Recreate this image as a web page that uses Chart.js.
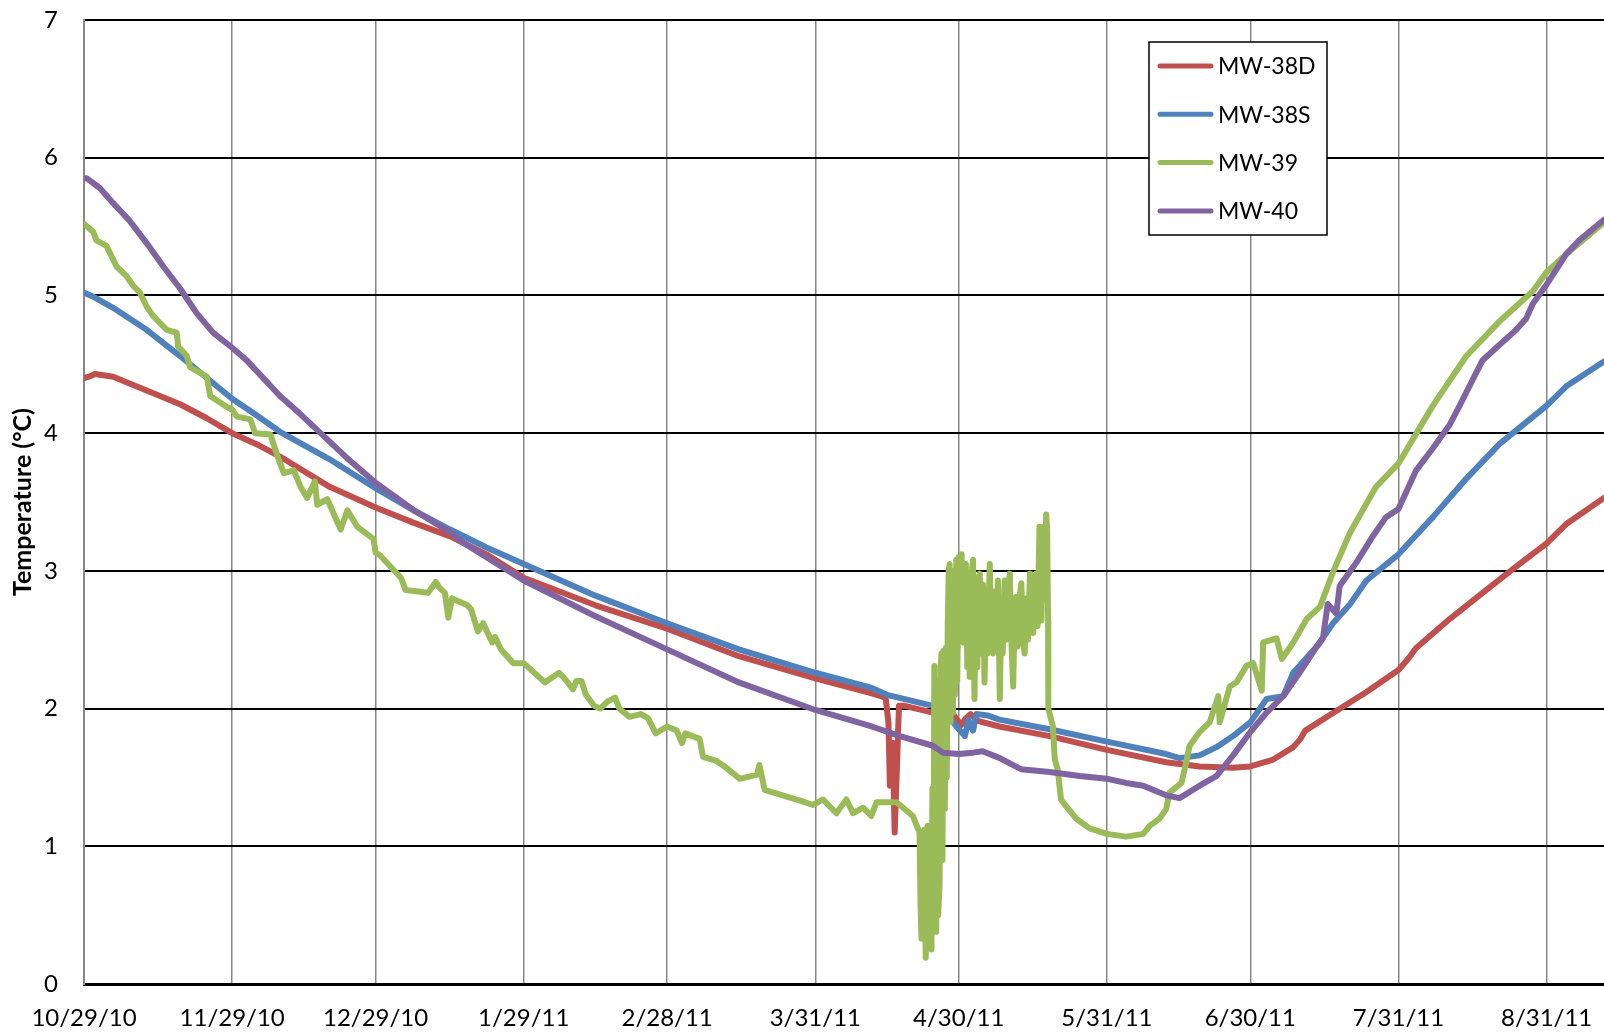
<!DOCTYPE html>
<html>
<head>
<meta charset="utf-8">
<title>Well temperatures</title>
<script src="https://cdn.jsdelivr.net/npm/chart.js@4.4.1/dist/chart.umd.min.js"></script>
<style>
  html, body { margin: 0; padding: 0; background: #fff; }
  #wrap { width: 1604px; height: 1033px; }
</style>
</head>
<body>
<div id="wrap"><canvas id="chart" width="1604" height="1033"></canvas></div>
<script>
// x values are days after 10/29/10
const tickDays = [0, 31, 61, 92, 122, 153, 183, 214, 244, 275, 306];
const tickLabels = ['10/29/10', '11/29/10', '12/29/10', '1/29/11', '2/28/11', '3/31/11',
                    '4/30/11', '5/31/11', '6/30/11', '7/31/11', '8/31/11'];
const seriesNames = ['MW-38D', 'MW-38S', 'MW-39', 'MW-40'];

const mw38d = [
  [0, 4.40], [1, 4.41], [2.3, 4.43], [6.1, 4.41], [13.1, 4.31], [20.1, 4.21], [25.6, 4.11],
  [31, 4.0], [36.1, 3.92], [41, 3.83], [51.4, 3.61], [61, 3.46], [68.9, 3.35], [76.6, 3.25],
  [84.2, 3.12], [92, 2.95], [107, 2.75], [122, 2.58], [137, 2.38], [153, 2.22], [164.8, 2.11],
  [167.7, 2.08], [168.3, 1.9], [168.6, 1.44], [169.2, 1.75], [169.6, 1.10], [170.1, 1.6],
  [170.5, 2.02], [171.7, 2.02], [177.6, 1.97], [182, 1.95], [183.5, 1.88], [184.5, 1.93],
  [185.5, 1.96], [187, 1.91], [191.5, 1.87], [202, 1.80], [214, 1.70], [226.4, 1.61],
  [233.4, 1.58], [240.4, 1.57], [244, 1.58], [248.8, 1.63], [253, 1.72], [254.5, 1.78],
  [255.5, 1.84], [261.4, 1.97], [268.3, 2.12], [275, 2.28], [277, 2.36], [278.7, 2.44],
  [285.7, 2.65], [292.6, 2.84], [299.6, 3.03], [306, 3.20], [310.1, 3.34], [318, 3.53]
];

const mw38s = [
  [0, 5.02], [2, 4.99], [6.1, 4.91], [13.1, 4.75], [20.1, 4.56], [31, 4.25], [36.1, 4.13],
  [41, 4.01], [51.4, 3.81], [61, 3.60], [68.9, 3.44], [76.6, 3.30], [84.2, 3.17], [92, 3.05],
  [107, 2.82], [122, 2.62], [137, 2.43], [153, 2.26], [164.8, 2.15], [168, 2.10], [177.6, 2.02],
  [180, 1.98], [183, 1.85], [184.3, 1.80], [185, 1.92], [186, 1.84], [186.7, 1.96],
  [189, 1.95], [191.5, 1.92], [202, 1.85], [214, 1.76], [226.4, 1.67], [229.2, 1.64],
  [233.4, 1.66], [236.9, 1.72], [240.4, 1.80], [244, 1.90], [247.4, 2.07], [250.9, 2.09],
  [253, 2.26], [257.9, 2.45], [261.3, 2.62], [264.9, 2.76], [268.3, 2.93], [275, 3.12],
  [282.2, 3.39], [289.2, 3.67], [296.1, 3.92], [306, 4.20], [310.1, 4.34], [318, 4.52]
];

const mw39 = [
  [0, 5.52], [1.95, 5.46], [2.6, 5.40], [4.7, 5.36], [6.1, 5.26], [6.8, 5.21], [8.9, 5.14],
  [10.3, 5.07], [11.7, 5.02], [13.1, 4.92], [14.5, 4.85], [15.9, 4.80], [17.3, 4.75],
  [19.4, 4.73], [19.7, 4.63], [21.5, 4.56], [22.2, 4.48], [25.7, 4.41],
  [26.4, 4.27], [29.9, 4.19], [31, 4.17], [32, 4.12], [34.8, 4.10], [35.8, 4.0], [39, 3.99],
  [40.4, 3.84], [41.8, 3.71], [43.9, 3.73], [45.3, 3.61], [46.7, 3.53], [48.3, 3.65],
  [48.8, 3.48], [50.9, 3.52], [53.7, 3.30], [55.1, 3.44], [57.2, 3.32], [60.6, 3.23],
  [61, 3.13], [62, 3.11], [66.3, 2.95], [67.3, 2.86], [70, 2.85], [72, 2.84], [73.6, 2.92],
  [74.3, 2.88], [75.5, 2.84], [76.2, 2.66], [77, 2.8], [80.2, 2.75], [81, 2.72], [82.4, 2.56],
  [83.5, 2.62], [85.4, 2.48], [86, 2.52], [87.2, 2.43], [89.8, 2.33], [92, 2.33], [96.4, 2.19],
  [99.4, 2.26], [100.5, 2.22], [102.3, 2.14], [103, 2.2], [104.1, 2.2], [105, 2.1],
  [106.7, 2.02], [108, 2.0], [109.5, 2.05], [111.1, 2.08], [112, 2.0], [114.1, 1.94],
  [116.5, 1.96], [118, 1.93], [119.6, 1.82], [122, 1.87], [124, 1.84], [125.1, 1.75],
  [125.8, 1.82], [128.8, 1.78], [129.5, 1.65], [132.3, 1.62], [134, 1.58], [137.2, 1.49],
  [140.8, 1.52], [141.3, 1.59], [142.4, 1.41], [147, 1.36], [150, 1.33], [152.5, 1.30],
  [154.6, 1.34], [157.4, 1.24], [159.5, 1.34], [160.9, 1.24], [163, 1.28], [164.7, 1.22],
  [165.8, 1.32], [170, 1.32], [173.4, 1.22],
  [174.8, 1.10], [175.0, 0.6], [175.2, 0.33], [175.4, 1.05], [175.6, 0.5], [175.8, 1.12],
  [176.1, 0.19], [176.3, 0.9], [176.5, 1.15], [176.8, 0.3], [177.0, 1.0], [177.3, 0.25],
  [177.5, 1.42], [177.7, 0.5], [177.9, 2.31], [178.1, 0.6], [178.3, 0.38], [178.5, 2.2],
  [178.7, 0.5], [179, 0.72], [179.2, 2.3], [179.4, 2.40], [179.6, 0.9], [179.8, 2.42],
  [180.1, 1.27], [180.3, 2.44], [180.5, 1.5], [180.7, 2.6], [180.9, 3.0], [181.1, 3.05],
  [181.3, 1.9], [181.5, 3.0], [181.8, 1.97], [182.0, 3.0], [182.2, 2.1], [182.5, 3.08],
  [182.7, 2.2], [183.0, 3.1], [183.3, 2.5], [183.6, 3.12], [183.9, 2.48], [184.2, 3.0],
  [184.5, 3.05], [184.8, 2.3], [185.0, 2.9], [185.3, 2.23], [185.6, 2.95], [186, 3.08],
  [186.3, 2.07], [186.6, 2.8], [186.9, 2.3], [187.2, 2.95], [187.4, 2.98], [187.8, 2.4],
  [188.1, 2.9], [188.4, 2.19], [188.7, 2.7], [189.0, 2.4], [189.5, 3.05], [189.8, 2.5],
  [190.2, 2.40], [190.5, 2.85], [190.8, 2.5], [191.2, 2.93], [191.6, 2.07], [191.9, 2.7],
  [192.2, 2.4], [192.6, 2.93], [192.9, 2.5], [193.3, 2.85], [193.7, 2.98], [194.0, 2.5],
  [194.4, 2.16], [194.7, 2.7], [195, 2.81], [195.3, 2.45], [195.7, 2.8], [196.1, 2.91],
  [196.4, 2.5], [196.8, 2.40], [197.1, 2.8], [197.5, 2.5], [197.9, 2.98], [198.2, 2.6],
  [198.6, 2.55], [198.9, 2.95], [199.2, 2.98], [199.5, 2.6], [199.9, 3.32], [200.1, 2.7],
  [200.3, 2.64], [200.6, 3.2], [200.8, 3.32], [201.0, 2.8], [201.3, 3.41], [201.5, 3.3],
  [201.7, 2.64], [201.75, 2.0], [202.7, 1.87], [203.1, 1.63],
  [203.7, 1.56], [204.4, 1.34], [205.5, 1.29], [207.6, 1.20], [210.4, 1.13], [214, 1.09],
  [218, 1.07], [221.6, 1.09], [223, 1.15], [225, 1.20], [226.4, 1.27], [227.1, 1.39],
  [229.6, 1.46], [230.6, 1.61], [231.3, 1.73], [233.4, 1.83], [235.5, 1.90], [237.3, 2.09],
  [237.6, 1.90], [239.7, 2.16], [241.1, 2.19], [243.2, 2.31], [244.6, 2.33], [246.4, 2.13],
  [246.7, 2.48], [249.5, 2.51], [250.6, 2.36], [253, 2.48], [255.8, 2.65], [258.6, 2.74],
  [261.4, 3.0], [264.9, 3.28], [270.3, 3.61], [275, 3.78], [282.2, 4.20], [289.2, 4.56],
  [296.1, 4.81], [303.1, 5.03], [306, 5.17], [310.1, 5.30], [318, 5.53]
];

const mw40 = [
  [0, 5.85], [0.6, 5.85], [3.3, 5.78], [6.1, 5.67], [9.6, 5.54], [13.1, 5.38], [16.6, 5.21],
  [20.1, 5.05], [23.6, 4.87], [27, 4.73], [31, 4.62], [34, 4.53], [41, 4.27], [45.2, 4.14],
  [49.5, 4.0], [55, 3.82], [61, 3.64], [69, 3.44], [76.6, 3.28], [79.5, 3.20], [92, 2.93],
  [107, 2.67], [122, 2.43], [137, 2.19], [153, 1.99], [164.8, 1.87], [170.7, 1.80], [177.6, 1.73],
  [179.7, 1.68], [183, 1.67], [186, 1.68], [188, 1.69], [191.6, 1.64], [196, 1.56], [202, 1.54],
  [208.3, 1.51], [214, 1.49], [218, 1.46], [221.6, 1.44], [226.4, 1.37], [229.2, 1.35],
  [233.4, 1.44], [236.9, 1.51], [240.4, 1.66], [244, 1.83], [247.4, 1.97], [250.9, 2.09],
  [254.3, 2.26], [257.9, 2.45], [259.2, 2.51], [260.2, 2.76], [262, 2.69], [262.7, 2.89],
  [266.2, 3.06], [269.6, 3.25], [272.4, 3.39], [275, 3.45], [278.7, 3.73], [282.2, 3.89],
  [285.7, 4.06], [287.8, 4.20], [292.6, 4.53], [296.1, 4.64], [299.6, 4.75], [301.7, 4.83],
  [303.1, 4.94], [306, 5.08], [310.1, 5.30], [312.8, 5.40], [318, 5.55]
];

const colors = ['#C0504D', '#4F81BD', '#9BBB59', '#8064A2'];

//turn [day, temp] pairs into points for chart.js
function toPoints(arr) {
    return arr.map(p => ({x: p[0], y: p[1]}));
}

const allSeries = [mw38d, mw38s, mw39, mw40];
const datasets = allSeries.map((s, i) => ({
    label: seriesNames[i],
    data: toPoints(s),
    borderColor: colors[i],
    backgroundColor: colors[i],
    borderWidth: 6,
    pointRadius: 0,
    tension: 0,
    borderJoinStyle: 'round',
    borderCapStyle: 'round',
    order: 3 - i   // later series on top, like the spreadsheet
}));

//legend box inside the plot
const boxLegend = {
    id: 'boxLegend',
    afterDraw(chart) {
        const ctx = chart.ctx;
        const left = 1149, top = 42, w = 178, h = 193;
        ctx.save();
        ctx.fillStyle = '#fff';
        ctx.fillRect(left, top, w, h);
        ctx.strokeStyle = '#000';
        ctx.lineWidth = 1.5;
        ctx.strokeRect(left, top, w, h);
        ctx.font = '23px Lato';
        ctx.textBaseline = 'middle';
        ctx.textAlign = 'left';
        chart.data.datasets.forEach((ds, i) => {
            const y = 66 + i * 48.3;
            ctx.strokeStyle = ds.borderColor;
            ctx.lineWidth = 5;
            ctx.lineCap = 'round';
            ctx.beginPath();
            ctx.moveTo(1160, y);
            ctx.lineTo(1211, y);
            ctx.stroke();
            ctx.fillStyle = '#000';
            ctx.fillText(ds.label, 1218, y + 1);
        });
        ctx.restore();
    }
};

new Chart(document.getElementById('chart'), {
    type: 'line',
    data: { datasets: datasets },
    plugins: [boxLegend],
    options: {
        responsive: false,
        animation: false,
        devicePixelRatio: 1,
        layout: { padding: { top: 20, right: 0, bottom: 0, left: 0 } },
        plugins: {
            legend: { display: false },
            tooltip: { enabled: false }
        },
        scales: {
            x: {
                type: 'linear',
                min: 0,
                max: 318,
                afterBuildTicks: axis => {
                    axis.ticks = tickDays.map(v => ({ value: v }));
                },
                afterFit: axis => {
                    axis.height = 49;
                    axis.paddingLeft = 0;
                    axis.paddingRight = 0;
                },
                ticks: {
                    autoSkip: false,
                    maxRotation: 0,
                    padding: 20,
                    color: '#000',
                    font: { family: 'Lato', size: 24 },
                    callback: v => tickLabels[tickDays.indexOf(v)]
                },
                grid: { color: '#878787', lineWidth: 1.5, drawTicks: false },
                border: { color: '#000', width: 3 }
            },
            y: {
                min: 0,
                max: 7,
                afterFit: axis => {
                    axis.width = 84;
                    axis.paddingTop = 0;
                    axis.paddingBottom = 0;
                },
                ticks: {
                    stepSize: 1,
                    padding: 26,
                    color: '#000',
                    font: { family: 'Lato', size: 24 }
                },
                grid: { color: '#000', lineWidth: 2, drawTicks: false },
                border: { color: '#878787', width: 2 },
                title: {
                    display: true,
                    text: 'Temperature (\u00B0C)',
                    color: '#000',
                    font: { family: 'Lato', size: 25, weight: 'bold' },
                    padding: { top: 8, bottom: 0 }
                }
            }
        }
    }
});
</script>
</body>
</html>
